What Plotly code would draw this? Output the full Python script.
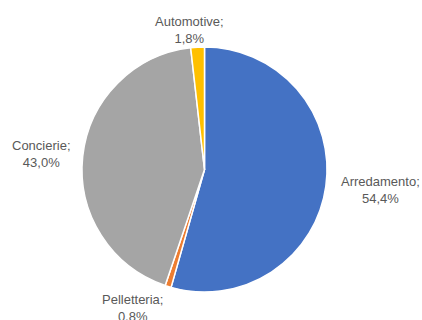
import plotly.graph_objects as go

# Segment shares (percent), listed clockwise from 12 o'clock
categories = ["Arredamento", "Pelletteria", "Concierie", "Automotive"]
shares = [54.4, 0.8, 43.0, 1.8]
colors = ["#4472C4", "#ED7D31", "#A5A5A5", "#FFC000"]

W, H = 422, 320

fig = go.Figure(
    go.Pie(
        labels=categories,
        values=shares,
        sort=False,
        direction="clockwise",
        rotation=0,
        marker=dict(colors=colors, line=dict(color="white", width=1.5)),
        textinfo="none",
        hoverinfo="label+percent",
        showlegend=False,
        domain=dict(x=[82 / W, 327 / W], y=[1 - 292 / H, 1 - 47 / H]),
    )
)

# Data labels placed around the pie: "Category;" over "value%" with comma decimals
label_pos = {
    "Arredamento": (380, 190),
    "Pelletteria": (132, 308),
    "Concierie": (41, 154),
    "Automotive": (189, 30),
}
for cat, val in zip(categories, shares):
    x, y = label_pos[cat]
    txt = f"{cat};<br>{val:.1f}%".replace(".", ",")
    fig.add_annotation(
        x=x / W, y=1 - y / H, xref="paper", yref="paper",
        text=txt, showarrow=False, xanchor="center", yanchor="middle",
        align="center",
        font=dict(family="Liberation Sans, Arial, sans-serif", size=13, color="#595959"),
    )

fig.update_layout(
    width=W, height=H,
    margin=dict(l=0, r=0, t=0, b=0),
    paper_bgcolor="white",
    plot_bgcolor="white",
)

fig.write_html("out.html")
